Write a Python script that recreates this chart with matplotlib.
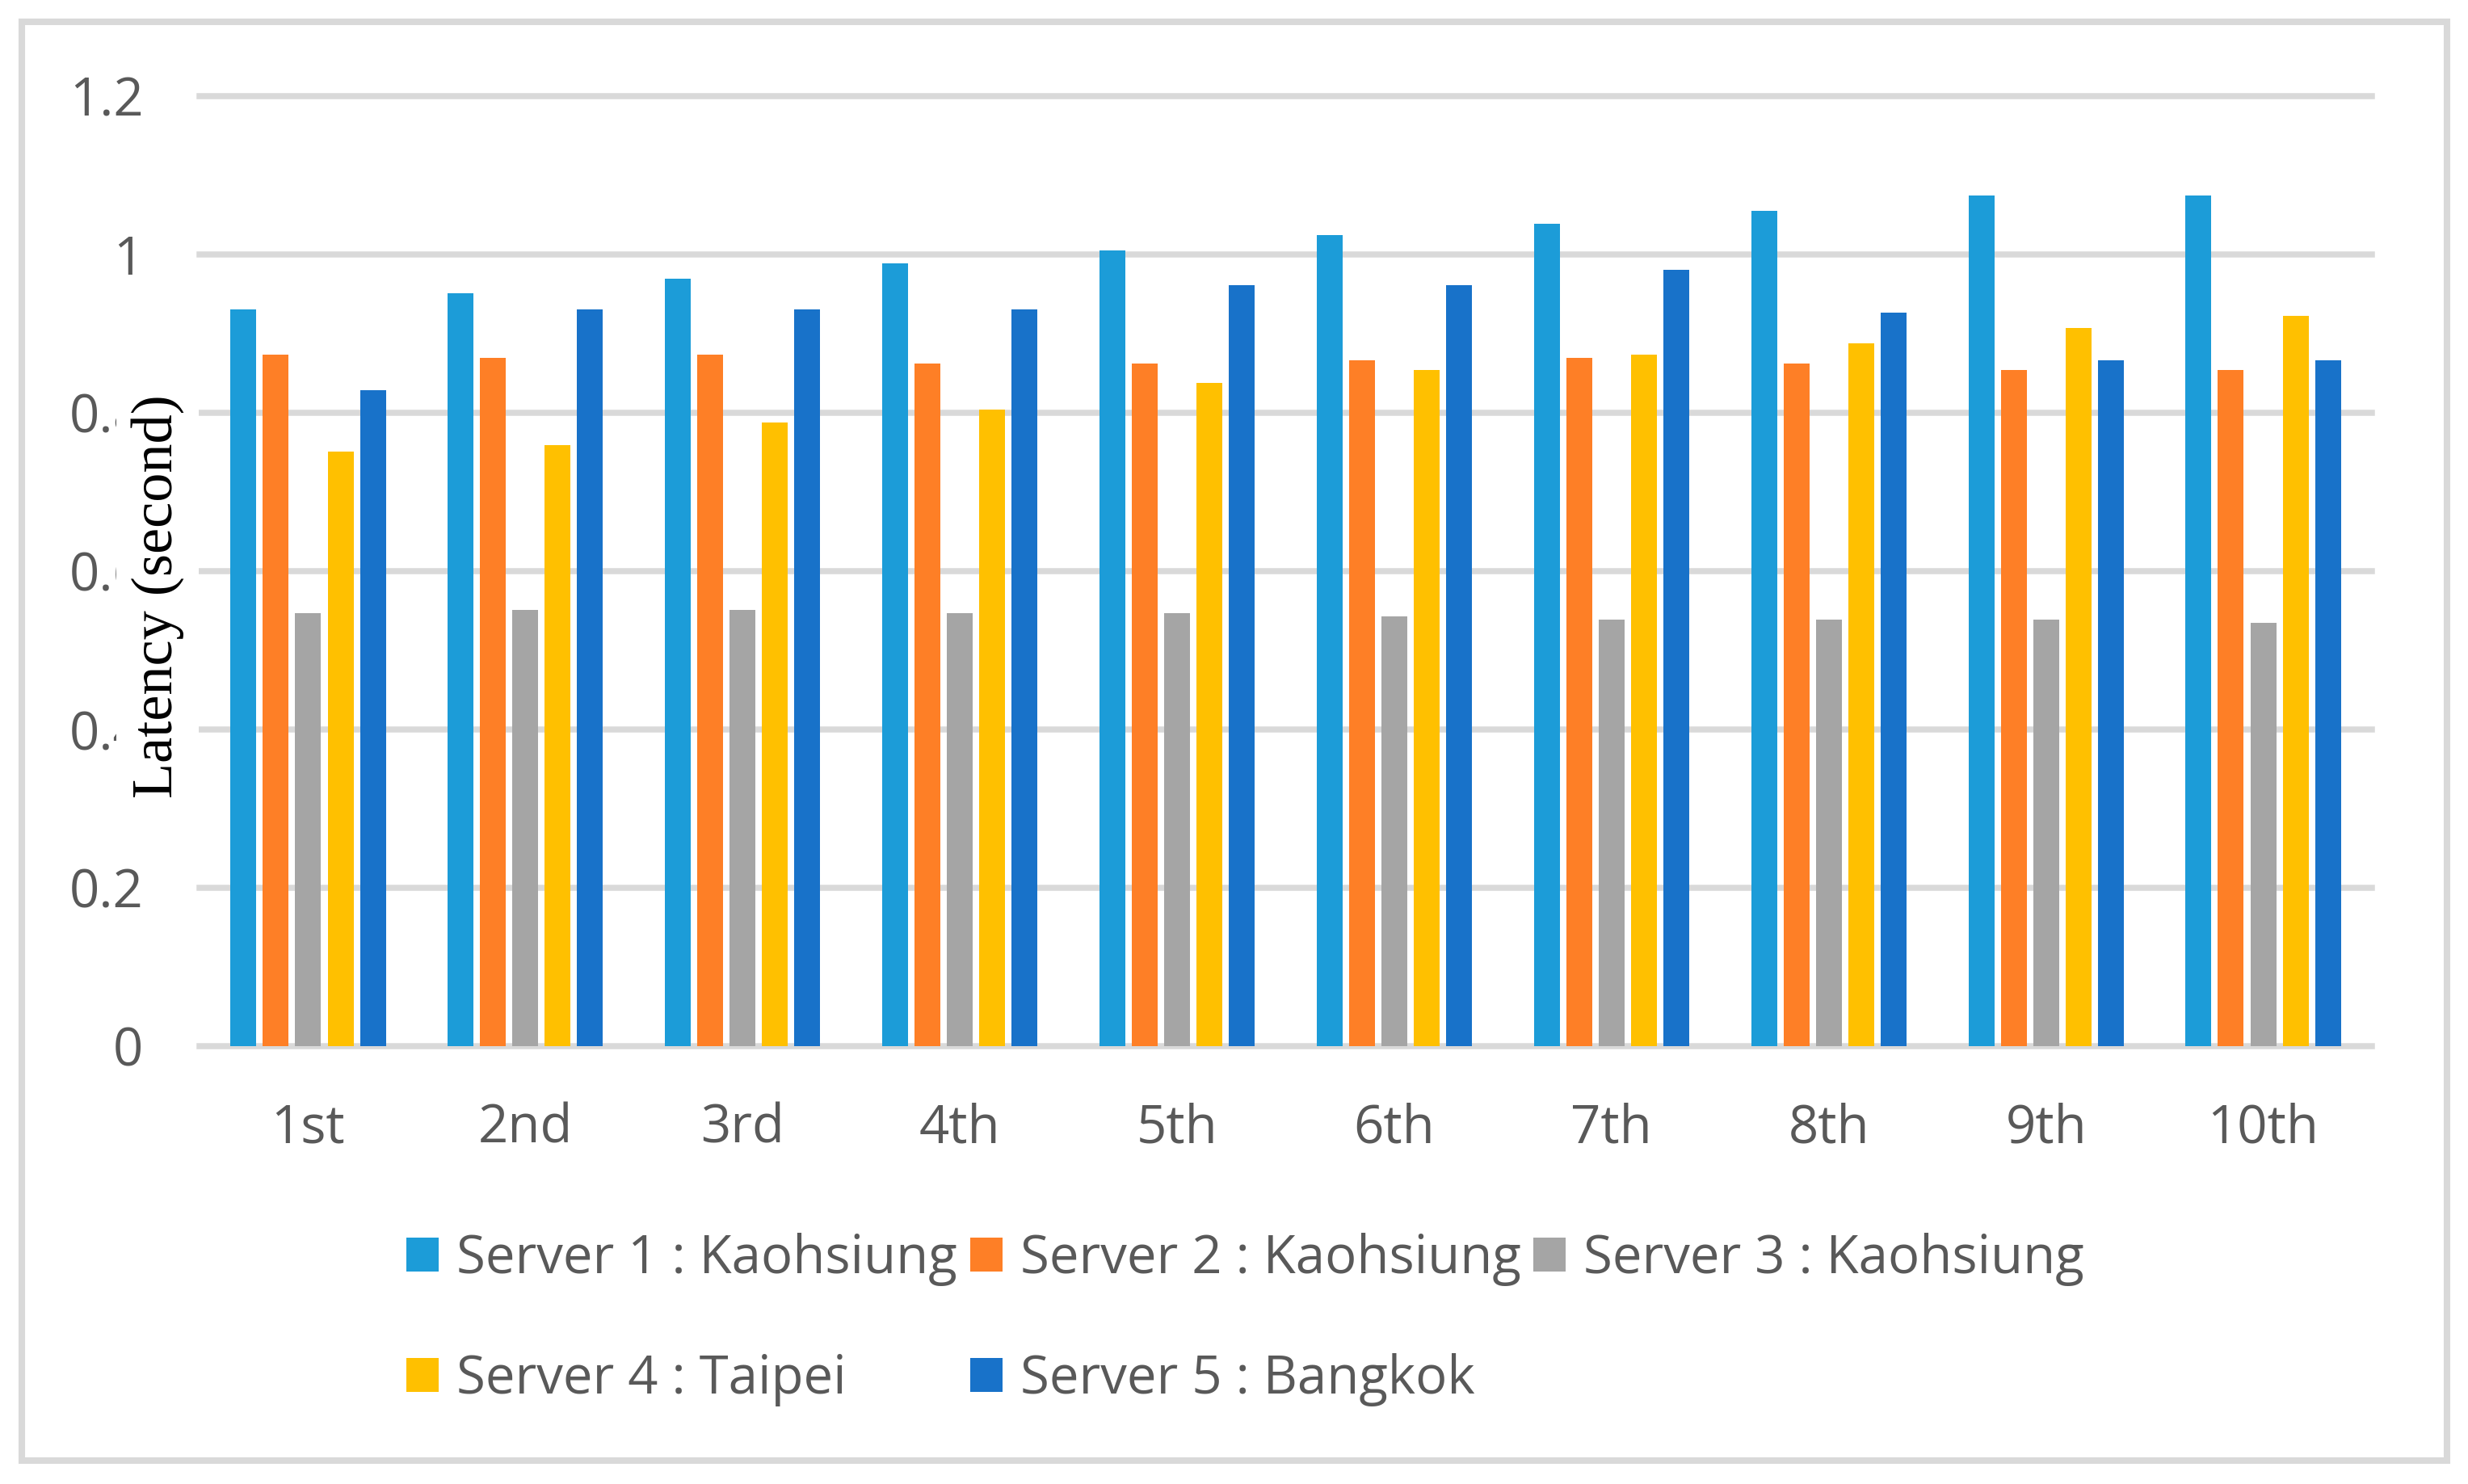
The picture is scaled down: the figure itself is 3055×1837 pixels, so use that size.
import numpy as np
import matplotlib
matplotlib.use("Agg")
from matplotlib import pyplot as plt
from matplotlib.patches import Rectangle, Patch

rounds = ['1st', '2nd', '3rd', '4th', '5th', '6th', '7th', '8th', '9th', '10th']
server_names = ['Server 1 : Kaohsiung', 'Server 2 : Kaohsiung', 'Server 3 : Kaohsiung',
                'Server 4 : Taipei', 'Server 5 : Bangkok']

server1 = [0.931, 0.951, 0.969, 0.989, 1.005, 1.025, 1.039, 1.055, 1.075, 1.075]
server2 = [0.873, 0.869, 0.873, 0.862, 0.862, 0.866, 0.869, 0.862, 0.854, 0.854]
server3 = [0.547, 0.551, 0.551, 0.547, 0.547, 0.543, 0.539, 0.539, 0.539, 0.535]
server4 = [0.751, 0.759, 0.788, 0.804, 0.838, 0.854, 0.873, 0.888, 0.907, 0.922]
server5 = [0.829, 0.931, 0.931, 0.931, 0.961, 0.961, 0.981, 0.927, 0.866, 0.866]

y_ticks = [0, 0.2, 0.4, 0.6, 0.8, 1.0, 1.2]
y_ticklabels = ['0', '0.2', '0.4', '0.6', '0.8', '1', '1.2']

colors = ['#1C9CD8', '#FE7F26', '#A5A5A5', '#FFC000', '#1872C9']
grid_col = '#D9D9D9'
text_col = '#595959'

W, H = 3055, 1837
fig = plt.figure(figsize=(W / 100, H / 100), dpi=100)
plt.rcParams['font.family'] = ['Open Sans', 'DejaVu Sans']

# plot area in pixels: x 247..2936, y 119..1295
ax = fig.add_axes([247 / W, 1 - 1295 / H, (2936 - 247) / W, (1295 - 119) / H])

x = np.arange(len(rounds))
series = [server1, server2, server3, server4, server5]
step = 0.149
width = 0.119
for i, vals in enumerate(series):
    ax.bar(x + (i - 2) * step, vals, width=width, color=colors[i], zorder=3)

ax.set_xlim(-0.5, len(rounds) - 0.5)
ax.set_ylim(0, 1.2)
ax.set_yticks(y_ticks)
ax.set_yticklabels(y_ticklabels)
ax.set_xticks(x)
ax.set_xticklabels(rounds)
ax.tick_params(axis='both', length=0, labelsize=47, labelcolor=text_col)
ax.tick_params(axis='y', pad=50)
ax.tick_params(axis='x', pad=50)

ax.grid(axis='y', color=grid_col, linewidth=5.4)
ax.grid(axis='x', visible=False)
for gl in ax.get_ygridlines():
    gl.set_clip_on(False)
ax.set_axisbelow(True)
for s in ['top', 'right', 'left', 'bottom']:
    ax.spines[s].set_visible(False)

# y-axis title with white box over the tick labels
fig.text(195 / W, 1 - 738 / H, 'Latency (second)', rotation=90, ha='center', va='center',
         fontsize=52, family='Liberation Serif', color='black',
         bbox=dict(boxstyle='square,pad=0.25', facecolor='white', edgecolor='none'))

# legend: row 1 = servers 1-3, row 2 = servers 4-5
order = [0, 3, 1, 4, 2]
handles = [Patch(facecolor=colors[k], edgecolor='none') for k in order]
labels = [server_names[k] for k in order]
fs_px = 47 * 100 / 72
fig.legend(handles, labels, ncol=3, loc='upper left',
           bbox_to_anchor=(503 / W, 1 - 1526 / H), frameon=False,
           fontsize=47, labelcolor=text_col, borderpad=0, borderaxespad=0,
           handlelength=40 / fs_px, handleheight=40 / fs_px,
           handletextpad=22 / fs_px, columnspacing=16 / fs_px, labelspacing=1.27)

# outer frame
fig.patches.append(Rectangle((27 / W, 1 - 1808 / H), (3029 - 27) / W, (1808 - 27) / H,
                             transform=fig.transFigure, fill=False,
                             edgecolor=grid_col, linewidth=5.8))

fig.savefig('out.png', dpi=100, facecolor='white')
